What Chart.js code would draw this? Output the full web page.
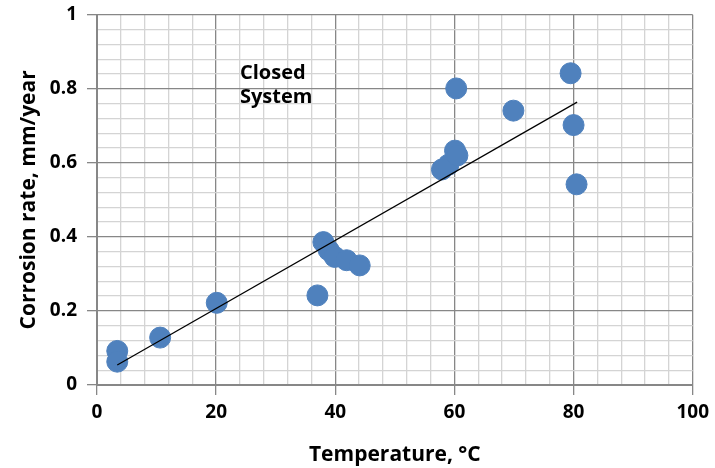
<!DOCTYPE html>
<html>
<head>
<meta charset="utf-8">
<script src="https://cdn.jsdelivr.net/npm/chart.js@4"></script>
<style>
  html, body { margin: 0; padding: 0; background: #fff; }
  #wrap { width: 715px; height: 468px; }
</style>
</head>
<body>
<div id="wrap"><canvas id="chart" width="715" height="468"></canvas></div>
<script>
// --- data ---
const tempC = [3.4, 3.4, 10.6, 20.1, 37.0, 38.0, 38.9, 39.9, 41.9, 44.1, 57.9, 59.0, 60.1, 60.5, 60.3, 69.9, 79.5, 80.0, 80.5];
const rate  = [0.092, 0.063, 0.128, 0.222, 0.242, 0.386, 0.364, 0.346, 0.337, 0.323, 0.582, 0.595, 0.633, 0.620, 0.801, 0.741, 0.842, 0.702, 0.542];
const trendX = [3.4, 80.6];
const trendY = [0.054, 0.764];
const xTicks = [0, 20, 40, 60, 80, 100];
const yTicks = [0, 0.2, 0.4, 0.6, 0.8, 1];
const note = ['Closed', 'System'];

const FONT = '"Open Sans", sans-serif';
const MAJOR = '#878787';
const MINOR = '#d4d4d4';

function isMajor(v, list) {
    return list.some(t => Math.abs(t - v) < 1e-6);
}

// annotation text inside the plot
const notePlugin = {
    id: 'note',
    afterDatasetsDraw(chart) {
        const { ctx, scales } = chart;
        ctx.save();
        ctx.fillStyle = '#000';
        ctx.font = 'bold 20px ' + FONT;
        ctx.textBaseline = 'alphabetic';
        ctx.textAlign = 'left';
        const x = scales.x.getPixelForValue(24);
        ctx.fillText(note[0], x, 79);
        ctx.fillText(note[1], x, 103);
        ctx.restore();
    }
};

new Chart(document.getElementById('chart'), {
    type: 'scatter',
    data: {
        datasets: [
            {
                label: 'Corrosion rate',
                data: tempC.map((t, i) => ({ x: t, y: rate[i] })),
                backgroundColor: '#4f81bd',
                borderColor: '#4f81bd',
                pointRadius: 10.5,
                pointHoverRadius: 10.5,
                order: 2
            },
            {
                label: 'Trend',
                type: 'line',
                data: trendX.map((t, i) => ({ x: t, y: trendY[i] })),
                borderColor: '#000',
                borderWidth: 1.2,
                pointRadius: 0,
                fill: false,
                order: 1
            }
        ]
    },
    options: {
        responsive: false,
        animation: false,
        layout: { padding: { top: 14, right: 18, left: 16, bottom: 0 } },
        plugins: { legend: { display: false }, tooltip: { enabled: false } },
        scales: {
            x: {
                type: 'linear',
                min: 0, max: 100,
                ticks: {
                    stepSize: 4,
                    autoSkip: false,
                    maxRotation: 0,
                    color: '#000',
                    font: { family: FONT, size: 19, weight: 'bold' },
                    padding: 6,
                    callback: v => isMajor(v, xTicks) ? String(v) : ''
                },
                grid: {
                    color: c => isMajor(c.tick.value, xTicks) ? MAJOR : MINOR,
                    tickColor: c => isMajor(c.tick.value, xTicks) ? MAJOR : 'rgba(0,0,0,0)',
                    tickLength: 10,
                    lineWidth: 1.3
                },
                border: { color: MAJOR, width: 2 },
                title: {
                    display: true,
                    text: 'Temperature, °C',
                    color: '#000',
                    font: { family: FONT, size: 21, weight: 'bold' },
                    padding: { top: 14, bottom: 0 }
                },
                afterFit: s => { s.height = 83; }
            },
            y: {
                type: 'linear',
                min: 0, max: 1,
                ticks: {
                    stepSize: 0.04,
                    autoSkip: false,
                    color: '#000',
                    font: { family: FONT, size: 19, weight: 'bold', lineHeight: 0.5 },
                    padding: 10,
                    callback: v => isMajor(v, yTicks) ? String(Math.round(v * 10) / 10) : ''
                },
                grid: {
                    color: c => isMajor(c.tick.value, yTicks) ? MAJOR : MINOR,
                    tickColor: c => isMajor(c.tick.value, yTicks) ? MAJOR : 'rgba(0,0,0,0)',
                    tickLength: 10,
                    lineWidth: 1.3
                },
                border: { color: MAJOR, width: 2 },
                title: {
                    display: true,
                    text: 'Corrosion rate, mm/year',
                    color: '#000',
                    font: { family: FONT, size: 21, weight: 'bold' },
                    padding: { top: 0, bottom: 4 }
                },
                afterFit: s => { s.width = 81; }
            }
        }
    },
    plugins: [notePlugin]
});
</script>
</body>
</html>
